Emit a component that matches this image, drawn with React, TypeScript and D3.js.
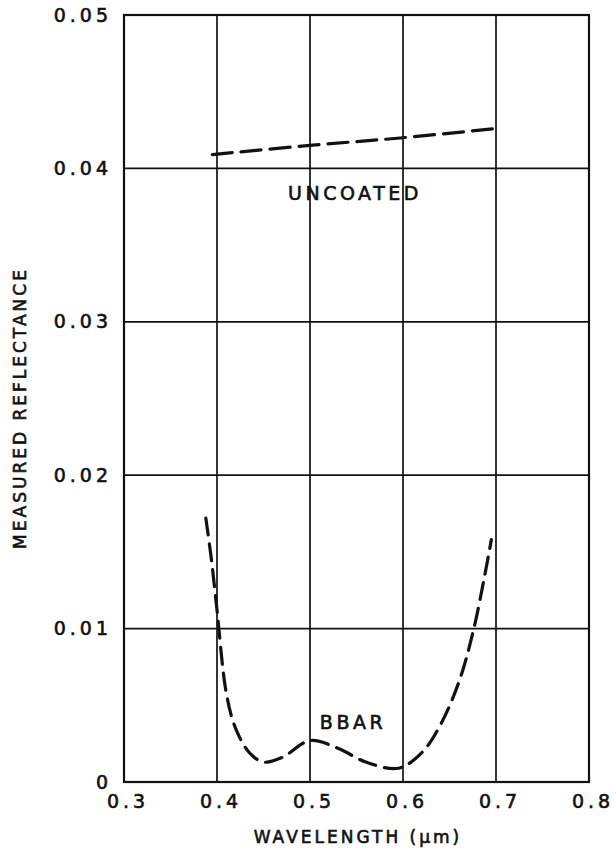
import React from 'react';
import * as d3 from 'd3';

const xTicks = [0.3, 0.4, 0.5, 0.6, 0.7, 0.8];
const yTicks = [0, 0.01, 0.02, 0.03, 0.04, 0.05];
const yTickLabels = ['0', '0.01', '0.02', '0.03', '0.04', '0.05'];

// uncoated substrate reflectance
const uncoatedX = [0.395, 0.5, 0.6, 0.7];
const uncoatedY = [0.0409, 0.0415, 0.042, 0.0426];

// broadband AR coating
const bbarX = [0.388, 0.394, 0.4, 0.41, 0.42, 0.435, 0.45, 0.47, 0.5, 0.53, 0.56, 0.595, 0.62, 0.64, 0.66, 0.675, 0.688, 0.695];
const bbarY = [0.0172, 0.0145, 0.0112, 0.0058, 0.0035, 0.0019, 0.0013, 0.0016, 0.0027, 0.0022, 0.0013, 0.0009, 0.0019, 0.0037, 0.0065, 0.0097, 0.0135, 0.0158];

const W = 616;
const H = 852;
const font = '"DejaVu Sans", sans-serif';

const App: React.FC = () => {
  const x = d3.scaleLinear().domain([0.3, 0.8]).range([124, 589]);
  const y = d3.scaleLinear().domain([0, 0.05]).range([782, 15]);

  const line = d3.line<[number, number]>()
    .x(d => x(d[0]))
    .y(d => y(d[1]))
    .curve(d3.curveCatmullRom.alpha(0.5));

  const uncoated = uncoatedX.map((v, i) => [v, uncoatedY[i]] as [number, number]);
  const bbar = bbarX.map((v, i) => [v, bbarY[i]] as [number, number]);

  // hand-lettered look: slightly thickened text
  const txt = { fontFamily: font, fill: '#111', stroke: '#111', strokeWidth: 0.6 };

  return (
    <svg width={W} height={H} style={{ position: 'absolute', left: 0, top: 0, background: '#fff' }}>
      {/* grid */}
      {xTicks.slice(1, -1).map(t => (
        <line key={'gx' + t} x1={x(t)} x2={x(t)} y1={y(0.05)} y2={y(0)} stroke="#111" strokeWidth={1.7} />
      ))}
      {yTicks.slice(1, -1).map(t => (
        <line key={'gy' + t} x1={x(0.3)} x2={x(0.8)} y1={y(t)} y2={y(t)} stroke="#111" strokeWidth={1.7} />
      ))}
      <rect x={x(0.3)} y={y(0.05)} width={x(0.8) - x(0.3)} height={y(0) - y(0.05)}
        fill="none" stroke="#111" strokeWidth={2.2} />

      {/* curves */}
      <path d={line(uncoated) || ''} fill="none" stroke="#111" strokeWidth={3.2}
        strokeDasharray="20,9" strokeLinecap="round" />
      <path d={line(bbar) || ''} fill="none" stroke="#111" strokeWidth={3.2}
        strokeDasharray="17,9" strokeLinecap="round" />

      {/* curve labels */}
      <text x={355} y={200} textAnchor="middle" fontSize={19} letterSpacing={3.5} {...txt}>UNCOATED</text>
      <text x={353} y={729} textAnchor="middle" fontSize={19} letterSpacing={3.5} {...txt}>BBAR</text>

      {/* y tick labels */}
      {yTicks.map((t, i) => (
        <text key={'yl' + t} x={112} y={y(t)} dy="0.35em" textAnchor="end"
          fontSize={19} letterSpacing={4} {...txt}>{yTickLabels[i]}</text>
      ))}
      {/* x tick labels */}
      {xTicks.map(t => (
        <text key={'xl' + t} x={x(t) + 4} y={808} textAnchor="middle"
          fontSize={19} letterSpacing={4} {...txt}>{t.toFixed(1)}</text>
      ))}

      {/* axis titles */}
      <text x={358} y={843} textAnchor="middle" fontSize={17} letterSpacing={3} {...txt}>WAVELENGTH (μm)</text>
      <text transform={`translate(26,${408}) rotate(-90)`} textAnchor="middle"
        fontSize={17} letterSpacing={3} {...txt}>MEASURED REFLECTANCE</text>
    </svg>
  );
};

export default App;
